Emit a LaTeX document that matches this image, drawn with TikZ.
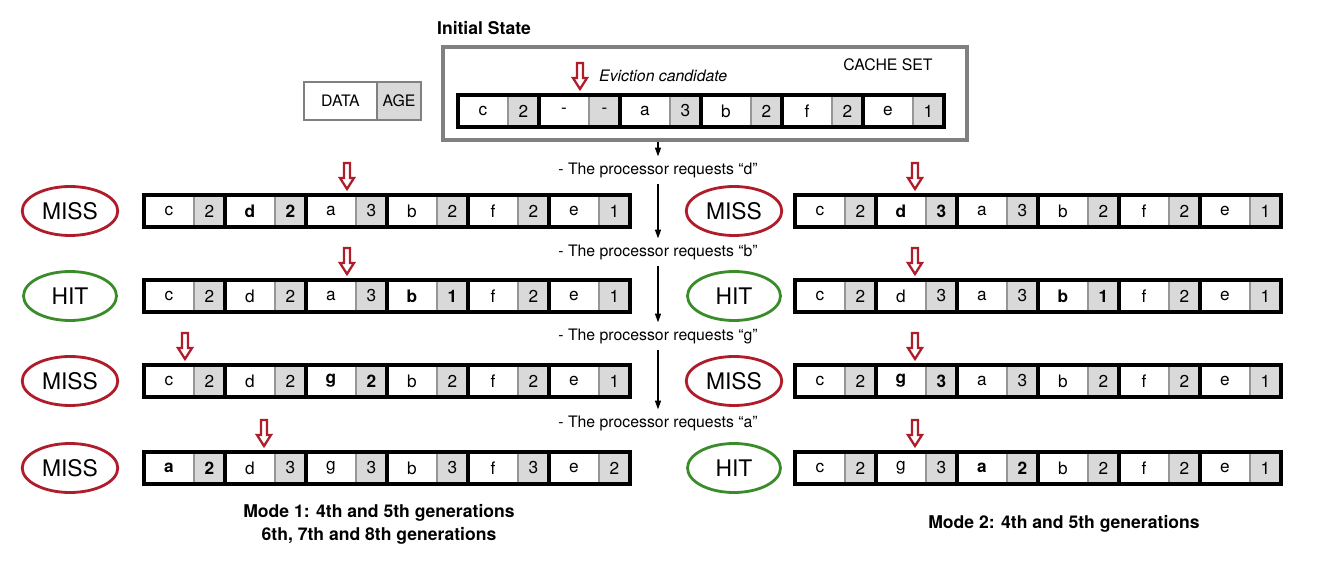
\documentclass[tikz,border=0pt]{standalone}
\usepackage{fontspec}
\setmainfont{TeX Gyre Heros}
\usetikzlibrary{positioning,shapes.geometric,arrows.meta}
\definecolor{missred}{RGB}{175,28,42}
\definecolor{hitgreen}{RGB}{58,140,42}
\definecolor{agegray}{RGB}{217,217,217}
\definecolor{divgray}{RGB}{150,150,150}
\definecolor{setgray}{RGB}{128,128,128}
\tikzset{
  datacell/.style={rectangle, minimum width=1cm, minimum height=0.64cm, inner sep=0pt, outer sep=0pt, fill=white, font=\fontsize{9.8}{11}\selectfont},
  agecell/.style={datacell, minimum width=0.62cm, fill=agegray, draw=divgray, line width=1pt},
  pairframe/.style={draw=black, line width=1.8pt},
  missbox/.style={ellipse, draw=missred, line width=1.6pt, minimum width=1.86cm, minimum height=0.98cm, font=\fontsize{13}{15}\selectfont},
  hitbox/.style={missbox, draw=hitgreen},
  request/.style={font=\fontsize{9}{11}\selectfont},
  flow/.style={-{Triangle[length=5pt,width=3.5pt]}, line width=0.6pt},
  modelabel/.style={font=\bfseries\fontsize{10}{13}\selectfont, align=center},
  legcell/.style={rectangle, draw=setgray, line width=1.5pt, minimum height=0.76cm, inner sep=0pt, outer sep=0pt, font=\fontsize{9}{10}\selectfont},
  evictarrow/.pic={\draw[draw=missred, fill=white, line width=1.3pt, line join=miter] (0,0) -- (-7,-11) -- (-3,-11) -- (-3,-26) -- (3,-26) -- (3,-11) -- (7,-11) -- cycle;}
}
\begin{document}
\begin{tikzpicture}[x=0.02cm, y=-0.02cm, font=\fontsize{9}{11}\selectfont]
\useasboundingbox (0,0) rectangle (1323,564);
\node[font=\bfseries\fontsize{10}{12}\selectfont] (title) at (484,28) {Initial State};
\node[rectangle, draw=setgray, line width=2.2pt, minimum width=10.48cm, minimum height=1.86cm] (cacheset) at (705,93.5) {};
\node (setname) at (888,65) {CACHE SET};
\node[legcell, minimum width=1.46cm] (legdata) at (340.5,101) {DATA};
\node[legcell, minimum width=0.88cm, fill=agegray, right=0pt of legdata] (legage) {AGE};
\node[datacell] (I0d1) at (483,111) {c}; \node[agecell, right=0pt of I0d1] (I0a1) {2}; \draw[pairframe] (I0d1.north west) rectangle (I0a1.south east);
\node[datacell] (I0d2) at (564,111) {-}; \node[agecell, right=0pt of I0d2] (I0a2) {-}; \draw[pairframe] (I0d2.north west) rectangle (I0a2.south east);
\node[datacell] (I0d3) at (645,111) {a}; \node[agecell, right=0pt of I0d3] (I0a3) {3}; \draw[pairframe] (I0d3.north west) rectangle (I0a3.south east);
\node[datacell] (I0d4) at (726,111) {b}; \node[agecell, right=0pt of I0d4] (I0a4) {2}; \draw[pairframe] (I0d4.north west) rectangle (I0a4.south east);
\node[datacell] (I0d5) at (807,111) {f}; \node[agecell, right=0pt of I0d5] (I0a5) {2}; \draw[pairframe] (I0d5.north west) rectangle (I0a5.south east);
\node[datacell] (I0d6) at (888,111) {e}; \node[agecell, right=0pt of I0d6] (I0a6) {1}; \draw[pairframe] (I0d6.north west) rectangle (I0a6.south east);
\pic (ev0) at ([xshift=0.32cm,yshift=0.12cm]I0d2.north) {evictarrow};
\node[anchor=west, font=\itshape\fontsize{9}{11}\selectfont] (evname) at (593,76) {Eviction candidate};
\node[request] (reqd) at (658,170) {- The processor requests “d”};
\node[request] (reqb) at (658,252) {- The processor requests “b”};
\node[request] (reqg) at (658,336) {- The processor requests “g”};
\node[request] (reqa) at (658,423) {- The processor requests “a”};
\draw[flow] (cacheset.south -| reqd) -- (reqd);
\draw[flow] (reqd) -- (reqb);
\draw[flow] (reqb) -- (reqg);
\draw[flow] (reqg) -- (reqa);
\node[missbox] (L1res) at (70,211) {MISS};
\node[hitbox] (L2res) at (70,296) {HIT};
\node[missbox] (L3res) at (70,381) {MISS};
\node[missbox] (L4res) at (70,468) {MISS};
\node[missbox] (R1res) at (734,211) {MISS};
\node[hitbox] (R2res) at (734,296) {HIT};
\node[missbox] (R3res) at (734,381) {MISS};
\node[hitbox] (R4res) at (734,468) {HIT};
\node[datacell] (L1d1) at (169,211) {c}; \node[agecell, right=0pt of L1d1] (L1a1) {2}; \draw[pairframe] (L1d1.north west) rectangle (L1a1.south east);
\node[datacell] (L1d2) at (250,211) {\bfseries d}; \node[agecell, right=0pt of L1d2] (L1a2) {\bfseries 2}; \draw[pairframe] (L1d2.north west) rectangle (L1a2.south east);
\node[datacell] (L1d3) at (331,211) {a}; \node[agecell, right=0pt of L1d3] (L1a3) {3}; \draw[pairframe] (L1d3.north west) rectangle (L1a3.south east);
\node[datacell] (L1d4) at (412,211) {b}; \node[agecell, right=0pt of L1d4] (L1a4) {2}; \draw[pairframe] (L1d4.north west) rectangle (L1a4.south east);
\node[datacell] (L1d5) at (493,211) {f}; \node[agecell, right=0pt of L1d5] (L1a5) {2}; \draw[pairframe] (L1d5.north west) rectangle (L1a5.south east);
\node[datacell] (L1d6) at (574,211) {e}; \node[agecell, right=0pt of L1d6] (L1a6) {1}; \draw[pairframe] (L1d6.north west) rectangle (L1a6.south east);
\node[datacell] (L2d1) at (169,296) {c}; \node[agecell, right=0pt of L2d1] (L2a1) {2}; \draw[pairframe] (L2d1.north west) rectangle (L2a1.south east);
\node[datacell] (L2d2) at (250,296) {d}; \node[agecell, right=0pt of L2d2] (L2a2) {2}; \draw[pairframe] (L2d2.north west) rectangle (L2a2.south east);
\node[datacell] (L2d3) at (331,296) {a}; \node[agecell, right=0pt of L2d3] (L2a3) {3}; \draw[pairframe] (L2d3.north west) rectangle (L2a3.south east);
\node[datacell] (L2d4) at (412,296) {\bfseries b}; \node[agecell, right=0pt of L2d4] (L2a4) {\bfseries 1}; \draw[pairframe] (L2d4.north west) rectangle (L2a4.south east);
\node[datacell] (L2d5) at (493,296) {f}; \node[agecell, right=0pt of L2d5] (L2a5) {2}; \draw[pairframe] (L2d5.north west) rectangle (L2a5.south east);
\node[datacell] (L2d6) at (574,296) {e}; \node[agecell, right=0pt of L2d6] (L2a6) {1}; \draw[pairframe] (L2d6.north west) rectangle (L2a6.south east);
\node[datacell] (L3d1) at (169,381) {c}; \node[agecell, right=0pt of L3d1] (L3a1) {2}; \draw[pairframe] (L3d1.north west) rectangle (L3a1.south east);
\node[datacell] (L3d2) at (250,381) {d}; \node[agecell, right=0pt of L3d2] (L3a2) {2}; \draw[pairframe] (L3d2.north west) rectangle (L3a2.south east);
\node[datacell] (L3d3) at (331,381) {\bfseries g}; \node[agecell, right=0pt of L3d3] (L3a3) {\bfseries 2}; \draw[pairframe] (L3d3.north west) rectangle (L3a3.south east);
\node[datacell] (L3d4) at (412,381) {b}; \node[agecell, right=0pt of L3d4] (L3a4) {2}; \draw[pairframe] (L3d4.north west) rectangle (L3a4.south east);
\node[datacell] (L3d5) at (493,381) {f}; \node[agecell, right=0pt of L3d5] (L3a5) {2}; \draw[pairframe] (L3d5.north west) rectangle (L3a5.south east);
\node[datacell] (L3d6) at (574,381) {e}; \node[agecell, right=0pt of L3d6] (L3a6) {1}; \draw[pairframe] (L3d6.north west) rectangle (L3a6.south east);
\node[datacell] (L4d1) at (169,468) {\bfseries a}; \node[agecell, right=0pt of L4d1] (L4a1) {\bfseries 2}; \draw[pairframe] (L4d1.north west) rectangle (L4a1.south east);
\node[datacell] (L4d2) at (250,468) {d}; \node[agecell, right=0pt of L4d2] (L4a2) {3}; \draw[pairframe] (L4d2.north west) rectangle (L4a2.south east);
\node[datacell] (L4d3) at (331,468) {g}; \node[agecell, right=0pt of L4d3] (L4a3) {3}; \draw[pairframe] (L4d3.north west) rectangle (L4a3.south east);
\node[datacell] (L4d4) at (412,468) {b}; \node[agecell, right=0pt of L4d4] (L4a4) {3}; \draw[pairframe] (L4d4.north west) rectangle (L4a4.south east);
\node[datacell] (L4d5) at (493,468) {f}; \node[agecell, right=0pt of L4d5] (L4a5) {3}; \draw[pairframe] (L4d5.north west) rectangle (L4a5.south east);
\node[datacell] (L4d6) at (574,468) {e}; \node[agecell, right=0pt of L4d6] (L4a6) {2}; \draw[pairframe] (L4d6.north west) rectangle (L4a6.south east);
\node[datacell] (R1d1) at (820,211) {c}; \node[agecell, right=0pt of R1d1] (R1a1) {2}; \draw[pairframe] (R1d1.north west) rectangle (R1a1.south east);
\node[datacell] (R1d2) at (901,211) {\bfseries d}; \node[agecell, right=0pt of R1d2] (R1a2) {\bfseries 3}; \draw[pairframe] (R1d2.north west) rectangle (R1a2.south east);
\node[datacell] (R1d3) at (982,211) {a}; \node[agecell, right=0pt of R1d3] (R1a3) {3}; \draw[pairframe] (R1d3.north west) rectangle (R1a3.south east);
\node[datacell] (R1d4) at (1063,211) {b}; \node[agecell, right=0pt of R1d4] (R1a4) {2}; \draw[pairframe] (R1d4.north west) rectangle (R1a4.south east);
\node[datacell] (R1d5) at (1144,211) {f}; \node[agecell, right=0pt of R1d5] (R1a5) {2}; \draw[pairframe] (R1d5.north west) rectangle (R1a5.south east);
\node[datacell] (R1d6) at (1225,211) {e}; \node[agecell, right=0pt of R1d6] (R1a6) {1}; \draw[pairframe] (R1d6.north west) rectangle (R1a6.south east);
\node[datacell] (R2d1) at (820,296) {c}; \node[agecell, right=0pt of R2d1] (R2a1) {2}; \draw[pairframe] (R2d1.north west) rectangle (R2a1.south east);
\node[datacell] (R2d2) at (901,296) {d}; \node[agecell, right=0pt of R2d2] (R2a2) {3}; \draw[pairframe] (R2d2.north west) rectangle (R2a2.south east);
\node[datacell] (R2d3) at (982,296) {a}; \node[agecell, right=0pt of R2d3] (R2a3) {3}; \draw[pairframe] (R2d3.north west) rectangle (R2a3.south east);
\node[datacell] (R2d4) at (1063,296) {\bfseries b}; \node[agecell, right=0pt of R2d4] (R2a4) {\bfseries 1}; \draw[pairframe] (R2d4.north west) rectangle (R2a4.south east);
\node[datacell] (R2d5) at (1144,296) {f}; \node[agecell, right=0pt of R2d5] (R2a5) {2}; \draw[pairframe] (R2d5.north west) rectangle (R2a5.south east);
\node[datacell] (R2d6) at (1225,296) {e}; \node[agecell, right=0pt of R2d6] (R2a6) {1}; \draw[pairframe] (R2d6.north west) rectangle (R2a6.south east);
\node[datacell] (R3d1) at (820,381) {c}; \node[agecell, right=0pt of R3d1] (R3a1) {2}; \draw[pairframe] (R3d1.north west) rectangle (R3a1.south east);
\node[datacell] (R3d2) at (901,381) {\bfseries g}; \node[agecell, right=0pt of R3d2] (R3a2) {\bfseries 3}; \draw[pairframe] (R3d2.north west) rectangle (R3a2.south east);
\node[datacell] (R3d3) at (982,381) {a}; \node[agecell, right=0pt of R3d3] (R3a3) {3}; \draw[pairframe] (R3d3.north west) rectangle (R3a3.south east);
\node[datacell] (R3d4) at (1063,381) {b}; \node[agecell, right=0pt of R3d4] (R3a4) {2}; \draw[pairframe] (R3d4.north west) rectangle (R3a4.south east);
\node[datacell] (R3d5) at (1144,381) {f}; \node[agecell, right=0pt of R3d5] (R3a5) {2}; \draw[pairframe] (R3d5.north west) rectangle (R3a5.south east);
\node[datacell] (R3d6) at (1225,381) {e}; \node[agecell, right=0pt of R3d6] (R3a6) {1}; \draw[pairframe] (R3d6.north west) rectangle (R3a6.south east);
\node[datacell] (R4d1) at (820,468) {c}; \node[agecell, right=0pt of R4d1] (R4a1) {2}; \draw[pairframe] (R4d1.north west) rectangle (R4a1.south east);
\node[datacell] (R4d2) at (901,468) {g}; \node[agecell, right=0pt of R4d2] (R4a2) {3}; \draw[pairframe] (R4d2.north west) rectangle (R4a2.south east);
\node[datacell] (R4d3) at (982,468) {\bfseries a}; \node[agecell, right=0pt of R4d3] (R4a3) {\bfseries 2}; \draw[pairframe] (R4d3.north west) rectangle (R4a3.south east);
\node[datacell] (R4d4) at (1063,468) {b}; \node[agecell, right=0pt of R4d4] (R4a4) {2}; \draw[pairframe] (R4d4.north west) rectangle (R4a4.south east);
\node[datacell] (R4d5) at (1144,468) {f}; \node[agecell, right=0pt of R4d5] (R4a5) {2}; \draw[pairframe] (R4d5.north west) rectangle (R4a5.south east);
\node[datacell] (R4d6) at (1225,468) {e}; \node[agecell, right=0pt of R4d6] (R4a6) {1}; \draw[pairframe] (R4d6.north west) rectangle (R4a6.south east);
\pic (evL1) at ([xshift=0.32cm,yshift=0.12cm]L1d3.north) {evictarrow};
\pic (evL2) at ([xshift=0.32cm,yshift=0.12cm]L2d3.north) {evictarrow};
\pic (evL3) at ([xshift=0.32cm,yshift=0.12cm]L3d1.north) {evictarrow};
\pic (evL4) at ([xshift=0.28cm,yshift=0.12cm]L4d2.north) {evictarrow};
\pic (evR1) at ([xshift=0.28cm,yshift=0.12cm]R1d2.north) {evictarrow};
\pic (evR2) at ([xshift=0.28cm,yshift=0.12cm]R2d2.north) {evictarrow};
\pic (evR3) at ([xshift=0.28cm,yshift=0.12cm]R3d2.north) {evictarrow};
\pic (evR4) at ([xshift=0.28cm,yshift=0.12cm]R4d2.north) {evictarrow};
\node[modelabel] (mode1) at (379,524) {Mode 1: 4th and 5th generations\\6th, 7th and 8th generations};
\node[modelabel] (mode2) at (1064,524) {Mode 2: 4th and 5th generations};
\end{tikzpicture}
\end{document}
